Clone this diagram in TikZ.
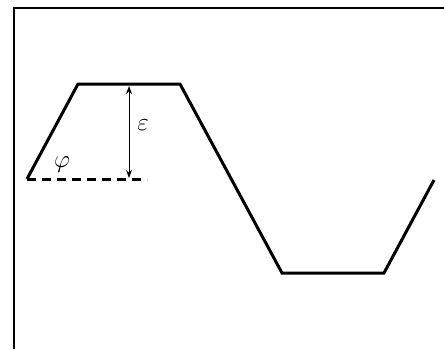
\documentclass[tikz,border=0pt]{standalone}
\usetikzlibrary{arrows.meta}
\begin{document}
\begin{tikzpicture}[x=1pt,y=-1pt,
  frameline/.style={line width=1.4pt},
  profile/.style={line width=3pt,line join=miter},
  baseline dash/.style={line width=3pt,dash pattern=on 9pt off 6pt},
  measure/.style={line width=1pt,{Stealth[length=8pt,width=6pt]}-{Stealth[length=8pt,width=6pt]}},
  lbl/.style={inner sep=0pt,font=\fontsize{26}{28}\selectfont}]
\useasboundingbox (0,0) rectangle (444,349);
\draw[frameline] (14,349) -- (14,8) -- (444,8);
\coordinate (p0) at (27,179);
\coordinate (p1) at (78,84);
\coordinate (p2) at (180,84);
\coordinate (p3) at (282,273);
\coordinate (p4) at (384,273);
\coordinate (p5) at (434,180);
\coordinate (d1) at (147,179);
\coordinate (a1) at (129,86);
\coordinate (a2) at (129,178);
\draw[profile] (p0) -- (p1) -- (p2) -- (p3) -- (p4) -- (p5);
\draw[baseline dash] (p0) -- (d1);
\draw[measure] (a1) -- (a2);
\node[lbl] (eps) at (143,125) {$\varepsilon$};
\node[lbl] (phi) at (62,165) {$\varphi$};
\end{tikzpicture}
\end{document}
